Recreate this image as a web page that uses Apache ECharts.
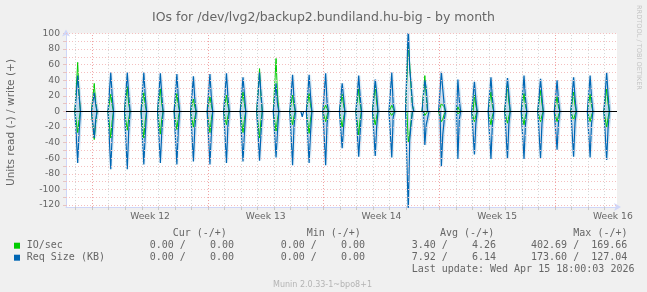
<!DOCTYPE html>
<html><head><meta charset="utf-8">
<script src="https://cdn.jsdelivr.net/npm/echarts@6/dist/echarts.min.js"></script>
<style>html,body{margin:0;padding:0;background:#f0f0f0;}#c{width:647px;height:292px;}</style>
</head><body><div id="c"></div>
<script>
// Time axis unit: hours since the graph start (Fri Mar 13 2026 10:00, 800 h before the last update).
const graphHours = 800;
const stepHours = 2;                      // munin 2-hour consolidation
const weekLabels = ['Week 12', 'Week 13', 'Week 14', 'Week 15', 'Week 16'];
const weekLabelHours = [122, 290, 458, 626, 794];   // Wednesday 12:00 of each week
const weekStartHours = [38, 206, 374, 542, 710];    // Sunday 00:00
const firstMidnightHour = 14;                        // Sat Mar 14 00:00
const dayCount = 33;
const firstSpikeHour = 17;                           // nightly job, ~03:00
const yLabelValues = [-120, -100, -80, -60, -40, -20, 0, 20, 40, 60, 80, 100];
const yGridValues = [-120, -110, -100, -90, -80, -70, -60, -50, -40, -30, -20, -10, 10, 20, 30, 40, 50, 60, 70, 80, 90, 100];

// Per-day spike profiles (consecutive 2-hour values starting at the spike)
const ioWrite = [[63,21],[36,12],[22,8],[32,10],[24,8],[29,10],[23,8],[16,6],[19,8],[21,8],[25,10],[55,20],[68,22],[21,8],[23,8],[8,4],[22,8],[29,10],[34,12],[8,4],[87,61,30,8],[46,20],[10,10,6],[6,2],[21,8],[25,8],[36,12],[23,8],[27,10],[19,6],[25,8],[22,8],[29,10]];
const ioRead = [[-27,-10],[-36,-15],[-34,-12],[-24,-10],[-34,-12],[-29,-10],[-23,-8],[-20,-8],[-27,-10],[-17,-6],[-27,-10],[-34,-12],[-25,-10],[-17,-6],[-28,-10],[-13,-5],[-20,-8],[-30,-10],[-17,-6],[-5,-2],[-39,-30,-12],[-5,-5],[-13,-10,-4],[-3,-2],[-13,-5],[-17,-6],[-15,-6],[-17,-6],[-13,-5],[-13,-5],[-11,-4],[-13,-5],[-20,-8]];
const reqWrite = [[46,21],[24,10],[50,20],[50,22],[50,20],[49,22],[48,18],[45,16],[48,18],[49,20],[44,22],[50,24],[36,10],[47,16],[47,20],[49,12],[36,18],[46,20],[41,24],[50,10],[110,55,36,8],[40,30],[51,29,10],[41,14],[38,16],[44,18],[43,22],[46,18],[42,20],[40,14],[44,18],[46,18],[50,22]];
const reqRead = [[-66,-26],[-34,-12],[-74,-30],[-74,-26],[-68,-30],[-66,-28],[-68,-24],[-64,-22],[-68,-28],[-66,-20],[-64,-28],[-63,-30],[-59,-26],[-69,-20],[-66,-28],[-69,-16],[-47,-20],[-58,-28],[-57,-20],[-59,-8],[-130,-37,-17],[-43,-17,-17],[-71,-30,-12],[-61,-10],[-55,-16],[-61,-18],[-61,-16],[-61,-18],[-60,-16],[-49,-14],[-58,-14],[-59,-16],[-62,-22]];
const reqReadExtra = [[343, -7]];

// Legend values
const legendRows = [
  {name: 'IO/sec', color: '#00cc00', cur: [0.00, 0.00], min: [0.00, 0.00], avg: [3.40, 4.26], max: [402.69, 169.66]},
  {name: 'Req Size (KB)', color: '#0066b3', cur: [0.00, 0.00], min: [0.00, 0.00], avg: [7.92, 6.14], max: [173.60, 127.04]}
];
const lastUpdate = 'Last update: Wed Apr 15 18:00:03 2026';
const titleText = 'IOs for /dev/lvg2/backup2.bundiland.hu-big - by month';
const yName = 'Units read (-) / write (+)';
const watermark = 'Munin 2.0.33-1~bpo8+1';
const sideText = 'RRDTOOL / TOBI OETIKER';

const times = [];
for (let t = 1; t < graphHours; t += stepHours) times.push(t);
const spikeHours = [];
for (let d = 0; d < dayCount; d++) spikeHours.push(firstSpikeHour + 24 * d);
const dayStartHours = [];
for (let d = 0; d < dayCount; d++) dayStartHours.push(firstMidnightHour + 24 * d);

function build(profiles, extra) {
  const vals = times.map(() => 0);
  profiles.forEach((p, d) => {
    const i0 = (spikeHours[d] - 1) / stepHours;
    p.forEach((v, j) => { vals[i0 + j] = v; });
  });
  (extra || []).forEach(([h, v]) => { vals[(h - 1) / stepHours] = v; });
  return times.map((t, i) => [t, vals[i]]);
}
// same values, but only around the spikes (for the soft halo)
function buildHalo(profiles) {
  const vals = times.map(() => null);
  profiles.forEach((p, d) => {
    const i0 = (spikeHours[d] - 1) / stepHours;
    vals[i0 - 1] = 0;
    p.forEach((v, j) => { vals[i0 + j] = v; });
    vals[i0 + p.length] = 0;
  });
  return times.map((t, i) => [t, vals[i]]);
}
const ioW = build(ioWrite), ioR = build(ioRead), rqW = build(reqWrite), rqR = build(reqRead, reqReadExtra);
const rqWHalo = buildHalo(reqWrite), rqRHalo = buildHalo(reqRead);

const GREEN = '#00cc00', BLUE = '#0066b3';
const glowUp = new echarts.graphic.LinearGradient(0, 0, 0, 1, [
  {offset: 0, color: 'rgba(0,102,179,0)'}, {offset: 0.5, color: 'rgba(0,102,179,0.05)'}, {offset: 1, color: 'rgba(0,102,179,0.28)'}]);
const glowDown = new echarts.graphic.LinearGradient(0, 0, 0, 1, [
  {offset: 0, color: 'rgba(0,102,179,0.28)'}, {offset: 0.5, color: 'rgba(0,102,179,0.05)'}, {offset: 1, color: 'rgba(0,102,179,0)'}]);

function lineSeries(data, color, width, z) {
  return {type: 'line', data, showSymbol: false, symbol: 'none', z, silent: true, animation: false,
    connectNulls: false, lineStyle: {color, width}, clip: true};
}

const gridMarks = [];
yGridValues.forEach(v => gridMarks.push({yAxis: v, lineStyle: {color: '#f4c0c0', type: [1, 2], width: 1}}));
dayStartHours.forEach(h => gridMarks.push({xAxis: h, lineStyle: {
  color: weekStartHours.includes(h) ? '#f0a0a0' : '#d6d6d6', type: [1, 2], width: 1}}));

const mono = 'DejaVu Sans Mono';
const fmt = (a) => (a[0].toFixed(2).padStart(6) + ' /' + a[1].toFixed(2).padStart(8));
const graphics = [];
function txt(x, y, text, opts) {
  opts = opts || {};
  graphics.push({type: 'text', x, y, rotation: opts.rotation || 0, silent: true, z: 10,
    style: {text, fill: opts.fill || '#666', font: opts.font || ('10px ' + mono),
      align: opts.align || 'left', verticalAlign: 'middle', textAlign: opts.align || 'left', textVerticalAlign: 'middle'}});
}
// header
[['Cur (-/+)', 172.7], ['Min (-/+)', 306.7], ['Avg (-/+)', 440], ['Max (-/+)', 573.3]].forEach(([t, x]) => txt(x, 233.5, t));
const colX = [137.7, 268.7, 399.7, 531];
legendRows.forEach((r, i) => {
  const y = 245.7 + 12 * i;
  graphics.push({type: 'rect', shape: {x: 14, y: y - 3, width: 6, height: 6}, style: {fill: r.color}, silent: true, z: 10});
  txt(26.7, y, r.name);
  [r.cur, r.min, r.avg, r.max].forEach((a, k) => txt(colX[k], y, fmt(a)));
});
txt(411.7, 269.7, lastUpdate);
txt(322.5, 285, watermark, {align: 'center', fill: '#b4b4b4', font: '8px DejaVu Sans'});
txt(11, 122.5, yName, {align: 'center', rotation: Math.PI / 2, font: '10.6px DejaVu Sans'});
txt(638.5, 5, sideText, {align: 'left', rotation: -Math.PI / 2, fill: '#c4c4c4', font: '6.6px DejaVu Sans'});

const chart = echarts.init(document.getElementById('c'), null, {renderer: 'canvas'});
chart.setOption({
  animation: false,
  backgroundColor: '#f0f0f0',
  title: {text: titleText, left: 'center', top: 6, textStyle: {fontFamily: 'DejaVu Sans', fontSize: 12.5, fontWeight: 'normal', color: '#666'}},
  grid: {left: 66, top: 33.5, width: 551, height: 173.55, show: true, backgroundColor: '#ffffff', borderWidth: 0},
  xAxis: {
    type: 'value', min: 0, max: graphHours,
    axisLine: {show: true, onZero: false, lineStyle: {color: '#CFD6F8', width: 1}, symbol: ['none', 'arrow'], symbolSize: [6, 7], symbolOffset: [0, 4]},
    axisTick: {show: true, customValues: dayStartHours, length: 3, lineStyle: {color: '#c8c8c8'}},
    axisLabel: {show: true, customValues: weekLabelHours, formatter: v => weekLabels[weekLabelHours.indexOf(v)] || '',
      color: '#666', fontFamily: 'DejaVu Sans', fontSize: 9.2, margin: 5},
    splitLine: {show: false}
  },
  yAxis: {
    type: 'value', min: -122.5, max: 100,
    axisLine: {show: true, onZero: false, lineStyle: {color: '#CFD6F8', width: 1}, symbol: ['none', 'arrow'], symbolSize: [6, 7], symbolOffset: [0, 4]},
    axisTick: {show: true, customValues: yGridValues.concat([0]), length: 3, lineStyle: {color: '#e4c4c4'}},
    axisLabel: {customValues: yLabelValues, color: '#666', fontFamily: 'DejaVu Sans', fontSize: 9.2, margin: 6},
    splitLine: {show: false}
  },
  graphic: graphics,
  series: [
    {type: 'line', data: [[0, 0]], z: 1, silent: true, showSymbol: false, symbol: 'none', lineStyle: {opacity: 0},
      markLine: {symbol: 'none', silent: true, animation: false, label: {show: false}, data: gridMarks}},
    lineSeries(rqWHalo, glowUp, 4, 2),
    lineSeries(rqRHalo, glowDown, 4, 2),
    lineSeries(ioW, GREEN, 1, 3),
    lineSeries(ioR, GREEN, 1, 3),
    lineSeries(rqW, BLUE, 1.2, 4),
    lineSeries(rqR, BLUE, 1.2, 4),
    {type: 'line', data: [[0, 0], [graphHours, 0]], z: 6, silent: true, showSymbol: false, symbol: 'none', lineStyle: {color: '#000', width: 1}}
  ]
});
</script></body></html>
